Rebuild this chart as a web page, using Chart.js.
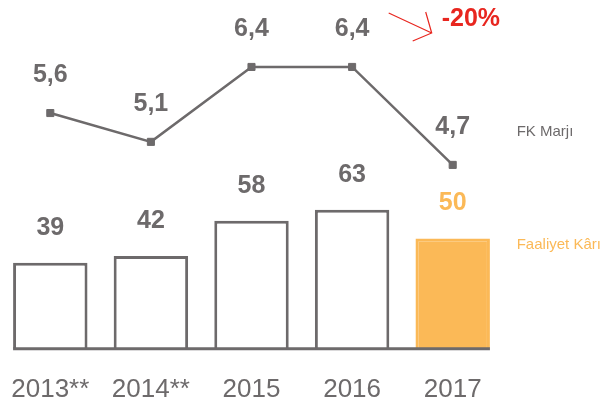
<!DOCTYPE html>
<html>
<head>
<meta charset="utf-8">
<script src="https://cdn.jsdelivr.net/npm/chart.js@4.4.1/dist/chart.umd.min.js"></script>
<style>
  html, body { margin: 0; padding: 0; background: #fff; }
  #chart { display: block; }
</style>
</head>
<body>
<canvas id="chart" width="606" height="410"></canvas>
<script>
// chart data
const years = ['2013**', '2014**', '2015', '2016', '2017'];
const faaliyetKari = [39, 42, 58, 63, 50];   // bars
const fkMarji = [5.6, 5.1, 6.4, 6.4, 4.7];   // line
const changeLabel = '-20%';

const GRAY = '#6d6a6b';
const ORANGE = '#fbb957';
const RED = '#e8261f';
const FONT = '"Liberation Sans", Arial, sans-serif';
const highlight = years.length - 1; // 2017 is the coloured bar

// value labels, baseline, the red arrow and the captions on the right
const decorations = {
    id: 'decorations',
    afterDatasetsDraw(chart) {
        const ctx = chart.ctx;
        const bars = chart.getDatasetMeta(0).data;
        const points = chart.getDatasetMeta(1).data;
        const y0 = chart.scales.y.getPixelForValue(0);
        const first = bars[0];
        const last = bars[bars.length - 1];
        ctx.save();

        // baseline under the bars
        ctx.strokeStyle = GRAY;
        ctx.lineWidth = 3;
        ctx.beginPath();
        ctx.moveTo(first.x - first.width / 2, y0);
        ctx.lineTo(last.x + last.width / 2, y0);
        ctx.stroke();

        // values
        ctx.font = 'bold 25px ' + FONT;
        ctx.textAlign = 'center';
        ctx.textBaseline = 'middle';
        bars.forEach((bar, i) => {
            ctx.fillStyle = i === highlight ? ORANGE : GRAY;
            ctx.fillText(String(faaliyetKari[i]), bar.x, bar.y - 35);
        });
        ctx.fillStyle = GRAY;
        points.forEach((pt, i) => {
            ctx.fillText(fkMarji[i].toFixed(1).replace('.', ','), pt.x, pt.y - 38);
        });

        // red arrow + change text
        const ax = points[highlight].x;
        ctx.strokeStyle = RED;
        ctx.lineWidth = 1.2;
        ctx.beginPath();
        ctx.moveTo(ax - 64, 13);
        ctx.lineTo(ax - 21, 33);
        ctx.moveTo(ax - 27, 12);
        ctx.lineTo(ax - 21, 33);
        ctx.lineTo(ax - 40, 41);
        ctx.stroke();
        ctx.fillStyle = RED;
        ctx.textAlign = 'left';
        ctx.fillText(changeLabel, ax - 11, 19);

        // series captions
        ctx.font = '15px ' + FONT;
        ctx.fillStyle = GRAY;
        ctx.fillText('FK Marjı', last.x + 64, 132);
        ctx.fillStyle = ORANGE;
        ctx.fillText('Faaliyet Kârı', last.x + 64, 245);
        ctx.restore();
    }
};

new Chart(document.getElementById('chart'), {
    data: {
        labels: years,
        datasets: [{
            type: 'bar',
            label: 'Faaliyet Kârı',
            data: faaliyetKari,
            yAxisID: 'y',
            backgroundColor: years.map((_, i) => i === highlight ? ORANGE : '#ffffff'),
            borderColor: years.map((_, i) => i === highlight ? ORANGE : GRAY),
            borderWidth: 3,
            barPercentage: 0.74,
            categoryPercentage: 1
        }, {
            type: 'line',
            label: 'FK Marjı',
            data: fkMarji,
            yAxisID: 'y2',
            borderColor: GRAY,
            borderWidth: 2.5,
            pointStyle: 'rect',
            pointRadius: 5,
            pointBorderWidth: 1,
            pointBackgroundColor: GRAY,
            pointBorderColor: GRAY,
            tension: 0
        }]
    },
    options: {
        responsive: false,
        animation: false,
        layout: {
            autoPadding: false,
            padding: { left: -2, right: 103, top: 0, bottom: 5 }
        },
        plugins: {
            legend: { display: false },
            tooltip: { enabled: false }
        },
        scales: {
            x: {
                // tickLength only pushes the labels down, nothing is drawn
                grid: { display: false, drawTicks: true, tickLength: 25 },
                border: { display: false },
                ticks: {
                    color: GRAY,
                    padding: 0,
                    font: { family: FONT, size: 26 }
                }
            },
            y: { display: false, min: 0, max: 158 },
            y2: { display: false, min: 1.508, max: 7.562 }
        }
    },
    plugins: [decorations]
});
</script>
</body>
</html>
